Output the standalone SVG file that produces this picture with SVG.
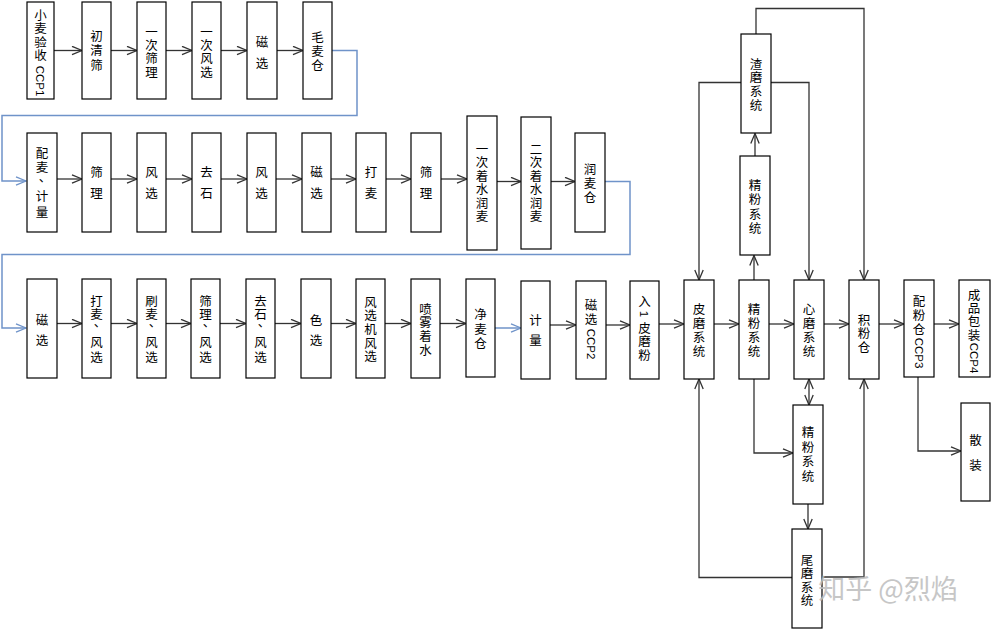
<svg xmlns="http://www.w3.org/2000/svg" width="991" height="629" viewBox="0 0 991 629">
<defs>
<marker id="a" viewBox="0 0 12 10" markerWidth="12" markerHeight="10" refX="11" refY="5" orient="auto-start-reverse" markerUnits="userSpaceOnUse">
<path d="M1,0.8 L11,5 L1,9.2" fill="none" stroke="#333" stroke-width="1.3"/>
</marker>
<marker id="ab" viewBox="0 0 12 10" markerWidth="12" markerHeight="10" refX="11" refY="5" orient="auto" markerUnits="userSpaceOnUse">
<path d="M1,0.8 L11,5 L1,9.2" fill="none" stroke="#6f93c9" stroke-width="1.3"/>
</marker>
</defs>
<style>
.b{fill:#fff;stroke:#000;stroke-width:1.2}
.t{font-family:"Noto Sans CJK SC","Noto Sans CJK JP",sans-serif;font-size:12.5px;text-anchor:middle;fill:#000}
.c{font-family:"Liberation Sans",sans-serif;font-size:11.5px;text-anchor:middle;fill:#000}
.k{fill:none;stroke:#333;stroke-width:1.3;marker-end:url(#a)}
.u{fill:none;stroke:#6f93c9;stroke-width:1.5;marker-end:url(#ab)}
.w{font-family:"Noto Sans CJK SC",sans-serif;font-size:27px;text-anchor:middle;fill:#bdbdbd;opacity:0.85}
</style>
<rect width="991" height="629" fill="#fff"/>

<g id="connectors">
<path class="k" d="M54,50.5H82"/><path class="k" d="M111,50.5H137"/><path class="k" d="M166,50.5H192"/><path class="k" d="M221,50.5H247"/><path class="k" d="M277,50.5H303"/>
<path class="u" d="M332,50.5H357V115.5H2V181H26"/>
<path class="k" d="M57,179H82"/><path class="k" d="M111,179H137"/><path class="k" d="M166,179H192"/><path class="k" d="M221,179H247"/><path class="k" d="M276,179H302"/><path class="k" d="M331,179H356"/><path class="k" d="M386,179H411"/><path class="k" d="M441,179H467"/><path class="k" d="M497,181.5H521"/><path class="k" d="M551,181.5H575"/>
<path class="u" d="M605,181.5H630V254.5H2V328H26"/>
<path class="k" d="M57,323.5H82"/><path class="k" d="M111,323.5H137"/><path class="k" d="M166,323.5H191"/><path class="k" d="M220,323.5H246"/><path class="k" d="M275,323.5H301"/><path class="k" d="M331,323.5H356"/><path class="k" d="M385,323.5H411"/><path class="k" d="M440,323.5H466"/>
<path class="u" d="M495,328H521"/>
<path class="k" d="M550,325H576"/><path class="k" d="M606,325H630"/><path class="k" d="M659,324H684"/><path class="k" d="M714,324H739"/><path class="k" d="M769,324H794"/><path class="k" d="M824,324H849"/><path class="k" d="M879,324H904"/><path class="k" d="M934,324H959"/>
<path class="k" d="M756,34V8.5H864V280"/>
<path class="k" d="M741,82.5H699V280"/>
<path class="k" d="M771,82.5H809V280"/>
<path class="k" d="M755,156V133.5"/>
<path class="k" d="M754,280V255.5"/>
<path class="k" d="M809,379V405" marker-start="url(#a)"/>
<path class="k" d="M754,379V453H793"/>
<path class="k" d="M808,504V529"/>
<path class="k" d="M792,577.5H699V379"/>
<path class="k" d="M822,577H864V379"/>
<path class="k" d="M918,377V451H961"/>
</g>

<g id="n1"><rect class="b" x="27" y="2" width="27" height="97"/><text class="t"><tspan x="40.5" y="19.8">小</tspan><tspan x="40.5" y="33.3">麦</tspan><tspan x="40.5" y="46.8">验</tspan><tspan x="40.5" y="60.3">收</tspan></text><text class="c" transform="translate(40.5,81) rotate(90)" dy="4.1">CCP1</text></g>
<g id="n2"><rect class="b" x="82" y="2" width="29" height="97"/><text class="t"><tspan x="96.5" y="40.5">初</tspan><tspan x="96.5" y="55">清</tspan><tspan x="96.5" y="69.5">筛</tspan></text></g>
<g id="n3"><rect class="b" x="137" y="2" width="29" height="97"/><text class="t"><tspan x="151.5" y="36.7">一</tspan><tspan x="151.5" y="50">次</tspan><tspan x="151.5" y="63.3">筛</tspan><tspan x="151.5" y="76.7">理</tspan></text></g>
<g id="n4"><rect class="b" x="192" y="2" width="29" height="97"/><text class="t"><tspan x="206.5" y="36.7">一</tspan><tspan x="206.5" y="50">次</tspan><tspan x="206.5" y="63.3">风</tspan><tspan x="206.5" y="76.7">选</tspan></text></g>
<g id="n5"><rect class="b" x="247" y="2" width="30" height="97"/><text class="t"><tspan x="262" y="46.7">磁</tspan><tspan x="262" y="68.3">选</tspan></text></g>
<g id="n6"><rect class="b" x="303" y="2" width="29" height="97"/><text class="t"><tspan x="317.5" y="42">毛</tspan><tspan x="317.5" y="56">麦</tspan><tspan x="317.5" y="70">仓</tspan></text></g>

<g id="m1"><rect class="b" x="27" y="133" width="30" height="99"/><text class="t"><tspan x="42" y="158">配</tspan><tspan x="42" y="172">麦</tspan><tspan x="45" y="182">、</tspan><tspan x="42" y="201">计</tspan><tspan x="42" y="216.5">量</tspan></text></g>
<g id="m2"><rect class="b" x="82" y="133" width="29" height="99"/><text class="t"><tspan x="96.5" y="176.7">筛</tspan><tspan x="96.5" y="198.3">理</tspan></text></g>
<g id="m3"><rect class="b" x="137" y="133" width="29" height="99"/><text class="t"><tspan x="151.5" y="176.7">风</tspan><tspan x="151.5" y="198.3">选</tspan></text></g>
<g id="m4"><rect class="b" x="192" y="133" width="29" height="99"/><text class="t"><tspan x="206.5" y="176.7">去</tspan><tspan x="206.5" y="198.3">石</tspan></text></g>
<g id="m5"><rect class="b" x="247" y="133" width="29" height="99"/><text class="t"><tspan x="261.5" y="176.7">风</tspan><tspan x="261.5" y="198.3">选</tspan></text></g>
<g id="m6"><rect class="b" x="302" y="133" width="29" height="99"/><text class="t"><tspan x="316.5" y="176.7">磁</tspan><tspan x="316.5" y="198.3">选</tspan></text></g>
<g id="m7"><rect class="b" x="356" y="133" width="30" height="99"/><text class="t"><tspan x="371" y="176.7">打</tspan><tspan x="371" y="198.3">麦</tspan></text></g>
<g id="m8"><rect class="b" x="411" y="133" width="30" height="99"/><text class="t"><tspan x="426" y="176.7">筛</tspan><tspan x="426" y="198.3">理</tspan></text></g>
<g id="m9"><rect class="b" x="467" y="116" width="30" height="134"/><text class="t"><tspan x="482" y="153.5">一</tspan><tspan x="482" y="167">次</tspan><tspan x="482" y="180.5">着</tspan><tspan x="482" y="194">水</tspan><tspan x="482" y="207.5">润</tspan><tspan x="482" y="221">麦</tspan></text></g>
<g id="m10"><rect class="b" x="521" y="117" width="30" height="132"/><text class="t"><tspan x="536" y="153.5">二</tspan><tspan x="536" y="167">次</tspan><tspan x="536" y="180.5">着</tspan><tspan x="536" y="194">水</tspan><tspan x="536" y="207.5">润</tspan><tspan x="536" y="221">麦</tspan></text></g>
<g id="m11"><rect class="b" x="575" y="133" width="30" height="99"/><text class="t"><tspan x="590" y="174.3">润</tspan><tspan x="590" y="188">麦</tspan><tspan x="590" y="202">仓</tspan></text></g>

<g id="r1"><rect class="b" x="27" y="279" width="30" height="99"/><text class="t"><tspan x="42" y="325">磁</tspan><tspan x="42" y="345">选</tspan></text></g>
<g id="r2"><rect class="b" x="82" y="279" width="29" height="99"/><text class="t"><tspan x="96.5" y="306">打</tspan><tspan x="96.5" y="319">麦</tspan><tspan x="100" y="327">、</tspan><tspan x="96.5" y="347">风</tspan><tspan x="96.5" y="362">选</tspan></text></g>
<g id="r3"><rect class="b" x="137" y="279" width="29" height="99"/><text class="t"><tspan x="151.5" y="306">刷</tspan><tspan x="151.5" y="319">麦</tspan><tspan x="155" y="327">、</tspan><tspan x="151.5" y="347">风</tspan><tspan x="151.5" y="362">选</tspan></text></g>
<g id="r4"><rect class="b" x="191" y="279" width="29" height="99"/><text class="t"><tspan x="205.5" y="306">筛</tspan><tspan x="205.5" y="319">理</tspan><tspan x="209" y="327">、</tspan><tspan x="205.5" y="347">风</tspan><tspan x="205.5" y="362">选</tspan></text></g>
<g id="r5"><rect class="b" x="246" y="279" width="29" height="99"/><text class="t"><tspan x="260.5" y="306">去</tspan><tspan x="260.5" y="319">石</tspan><tspan x="264" y="327">、</tspan><tspan x="260.5" y="347">风</tspan><tspan x="260.5" y="362">选</tspan></text></g>
<g id="r6"><rect class="b" x="301" y="279" width="30" height="99"/><text class="t"><tspan x="316" y="325">色</tspan><tspan x="316" y="345">选</tspan></text></g>
<g id="r7"><rect class="b" x="356" y="279" width="29" height="99"/><text class="t"><tspan x="370.5" y="306.8">风</tspan><tspan x="370.5" y="320.4">选</tspan><tspan x="370.5" y="334">机</tspan><tspan x="370.5" y="347.6">风</tspan><tspan x="370.5" y="361.2">选</tspan></text></g>
<g id="r8"><rect class="b" x="411" y="279" width="29" height="99"/><text class="t"><tspan x="425.5" y="313.5">喷</tspan><tspan x="425.5" y="327.2">雾</tspan><tspan x="425.5" y="340.8">着</tspan><tspan x="425.5" y="354.5">水</tspan></text></g>
<g id="r9"><rect class="b" x="466" y="279" width="29" height="98"/><text class="t"><tspan x="480.5" y="319">净</tspan><tspan x="480.5" y="333.5">麦</tspan><tspan x="480.5" y="348">仓</tspan></text></g>
<g id="r10"><rect class="b" x="521" y="281" width="29" height="98"/><text class="t"><tspan x="535.5" y="325">计</tspan><tspan x="535.5" y="345">量</tspan></text></g>
<g id="r11"><rect class="b" x="576" y="281" width="30" height="98"/><text class="t"><tspan x="591" y="310">磁</tspan><tspan x="591" y="323.5">选</tspan></text><text class="c" transform="translate(591,344) rotate(90)" dy="4.1">CCP2</text></g>
<g id="r12"><rect class="b" x="630" y="281" width="29" height="98"/><text class="t"><tspan x="644.5" y="306">入</tspan><tspan x="644.5" y="332.5">皮</tspan><tspan x="644.5" y="346">磨</tspan><tspan x="644.5" y="360">粉</tspan></text><text class="c" transform="translate(644.5,314) rotate(90)" dy="4.1">1</text></g>

<g id="p1"><rect class="b" x="684" y="280" width="30" height="99"/><text class="t"><tspan x="699" y="313.7">皮</tspan><tspan x="699" y="327.8">磨</tspan><tspan x="699" y="342">系</tspan><tspan x="699" y="356">统</tspan></text></g>
<g id="p2"><rect class="b" x="739" y="280" width="30" height="99"/><text class="t"><tspan x="754" y="313.7">精</tspan><tspan x="754" y="327.8">粉</tspan><tspan x="754" y="342">系</tspan><tspan x="754" y="356">统</tspan></text></g>
<g id="p3"><rect class="b" x="794" y="280" width="30" height="99"/><text class="t"><tspan x="809" y="313.7">心</tspan><tspan x="809" y="327.8">磨</tspan><tspan x="809" y="342">系</tspan><tspan x="809" y="356">统</tspan></text></g>
<g id="p4"><rect class="b" x="849" y="280" width="30" height="99"/><text class="t"><tspan x="864" y="324.5">积</tspan><tspan x="864" y="338">粉</tspan><tspan x="864" y="351.5">仓</tspan></text></g>
<g id="p5"><rect class="b" x="904" y="280" width="30" height="97"/><text class="t"><tspan x="919" y="305.7">配</tspan><tspan x="919" y="320">粉</tspan><tspan x="919" y="334">仓</tspan></text><text class="c" transform="translate(919,353) rotate(90)" dy="4.1">CCP3</text></g>
<g id="p6"><rect class="b" x="959" y="280" width="31" height="97"/><text class="t"><tspan x="974" y="299.7">成</tspan><tspan x="974" y="313">品</tspan><tspan x="974" y="326.4">包</tspan><tspan x="974" y="339.8">装</tspan></text><text class="c" transform="translate(974,358) rotate(90)" dy="4.1">CCP4</text></g>
<g id="q1"><rect class="b" x="741" y="34" width="30" height="99"/><text class="t"><tspan x="756" y="68.5">渣</tspan><tspan x="756" y="82.3">磨</tspan><tspan x="756" y="96">系</tspan><tspan x="756" y="109.8">统</tspan></text></g>
<g id="q2"><rect class="b" x="740" y="156" width="30" height="99"/><text class="t"><tspan x="755" y="190.3">精</tspan><tspan x="755" y="204.4">粉</tspan><tspan x="755" y="218.5">系</tspan><tspan x="755" y="232.6">统</tspan></text></g>
<g id="q3"><rect class="b" x="793" y="405" width="30" height="99"/><text class="t"><tspan x="808" y="437">精</tspan><tspan x="808" y="451.5">粉</tspan><tspan x="808" y="466">系</tspan><tspan x="808" y="480.6">统</tspan></text></g>
<g id="q4"><rect class="b" x="792" y="529" width="30" height="99"/><text class="t"><tspan x="807" y="565">尾</tspan><tspan x="807" y="578.3">磨</tspan><tspan x="807" y="591.7">系</tspan><tspan x="807" y="605">统</tspan></text></g>
<g id="q5"><rect class="b" x="961" y="403" width="29" height="98"/><text class="t"><tspan x="975.5" y="445">散</tspan><tspan x="975.5" y="470">装</tspan></text></g>

<text class="w" x="888" y="599">知乎 @烈焰</text>
</svg>
